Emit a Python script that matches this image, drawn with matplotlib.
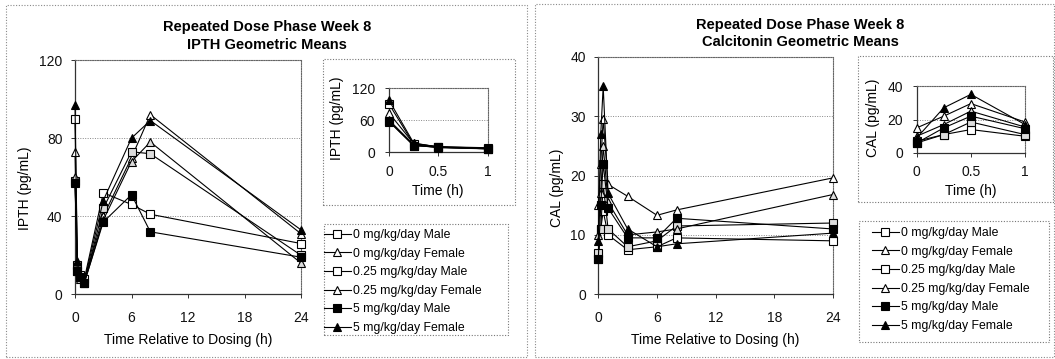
import matplotlib
matplotlib.use("Agg")
import matplotlib.pyplot as plt
from matplotlib.patches import Rectangle
from matplotlib.lines import Line2D

plt.rcParams['font.family'] = ['Liberation Sans', 'DejaVu Sans']

# ---------------- data ----------------
times = [0, 0.25, 0.5, 1, 3, 6, 8, 24]
series_labels = ["0 mg/kg/day Male", "0 mg/kg/day Female",
                 "0.25 mg/kg/day Male", "0.25 mg/kg/day Female",
                 "5 mg/kg/day Male", "5 mg/kg/day Female"]

ipth_0_male = [90, 15, 10, 8, 52, 46, 41, 26]
ipth_0_female = [73, 16, 10, 7, 40, 70, 92, 31]
ipth_025_male = [58, 12, 9, 6, 44, 73, 72, 20]
ipth_025_female = [60, 14, 8, 6, 38, 68, 78, 16]
ipth_5_male = [57, 12, 9, 6, 37, 51, 32, 19]
ipth_5_female = [97, 17, 9, 7, 48, 80, 89, 33]

cal_0_male = [6, 11, 14, 10, 7.5, 8, 9.5, 9]
cal_0_female = [15, 22, 29.5, 18.5, 16.5, 13.3, 14.2, 19.6]
cal_025_male = [7, 11, 18.5, 11, 8, 9, 11.5, 12]
cal_025_female = [10, 17, 25, 15.5, 10, 10.5, 11, 16.8]
cal_5_male = [6, 15, 22, 14.5, 9.5, 9.5, 12.8, 11]
cal_5_female = [9, 27, 35, 17, 11, 8, 8.5, 10.3]

ipth_series = [ipth_0_male, ipth_0_female, ipth_025_male,
               ipth_025_female, ipth_5_male, ipth_5_female]
cal_series = [cal_0_male, cal_0_female, cal_025_male,
              cal_025_female, cal_5_male, cal_5_female]

main_xticks = [0, 6, 12, 18, 24]
inset_xticks = [0, 0.5, 1]
inset_xticklabels = ["0", "0.5", "1"]
ipth_yticks = [0, 40, 80, 120]
ipth_inset_yticks = [0, 60, 120]
cal_yticks = [0, 10, 20, 30, 40]
cal_inset_yticks = [0, 20, 40]

# ---------------- styles ----------------
markers = ['s', '^', 's', '^', 's', '^']
faces = ['white', 'white', '#dcdcdc', '#dcdcdc', 'black', 'black']

W, H = 1055, 359
fig = plt.figure(figsize=(W / 100, H / 100), dpi=100)
fig.patch.set_facecolor('white')


def rect(x0, y0, x1, y1):
    return [x0 / W, 1 - y1 / H, (x1 - x0) / W, (y1 - y0) / H]


def box(x0, y0, x1, y1, color='#777777'):
    r = Rectangle((x0 / W, 1 - y1 / H), (x1 - x0) / W, (y1 - y0) / H,
                  transform=fig.transFigure, fill=False, lw=0.8,
                  ls=(0, (1, 1.5)), edgecolor=color)
    fig.add_artist(r)


def style_axes(ax, xlim, ylim, xticks, yticks, xpad, ypad, xticklabels=None):
    ax.set_xlim(*xlim)
    ax.set_ylim(*ylim)
    ax.set_xticks(xticks)
    if xticklabels is not None:
        ax.set_xticklabels(xticklabels)
    ax.set_yticks(yticks)
    ax.tick_params(axis='x', direction='out', length=3, width=0.6,
                   pad=xpad, labelsize=10, colors='#111111')
    ax.tick_params(axis='y', direction='out', length=3, width=0.6,
                   pad=ypad, labelsize=10, colors='#111111')
    for t in ax.get_yticks()[1:-1]:
        ax.axhline(t, color='#888888', lw=0.7, ls=(0, (1, 1.5)), zorder=0)
    for s in ['top', 'right']:
        ax.spines[s].set_linestyle((0, (1, 1.2)))
        ax.spines[s].set_color('#666666')
        ax.spines[s].set_linewidth(0.8)
    for s in ['left', 'bottom']:
        ax.spines[s].set_color('#333333')
        ax.spines[s].set_linewidth(0.9)


def plot_series(ax, xs, data, ms=6):
    for vals, m, fc, lab in zip(data, markers, faces, series_labels):
        ax.plot(xs, vals, color='black', lw=0.8, marker=m, ms=ms,
                markerfacecolor=fc, markeredgecolor='black',
                markeredgewidth=0.8, label=lab, clip_on=False, zorder=3)


def panel(cfg):
    (ax_main, ax_in, data, yt, yti, ylim, ylab, title, tx, ty1, ty2,
     ylab_x, inset_ylab_x_px, leg_x, leg_y, inbox, legbox, outer) = cfg
    box(*outer, color='#8a8a8a')
    box(*inbox)
    box(*legbox)

    ax = fig.add_axes(rect(*ax_main))
    plot_series(ax, times, data)
    style_axes(ax, (0, 24), ylim, main_xticks, yt, 9, 6)
    ax.set_xlabel("Time Relative to Dosing (h)", fontsize=10,
                  va='center')
    h_px = ax_main[3] - ax_main[1]
    w_px = ax_main[2] - ax_main[0]
    ax.xaxis.set_label_coords(0.5, (ax_main[3] - 340) / h_px)
    ax.set_ylabel(ylab, fontsize=10, va='center')
    ax.yaxis.set_label_coords((ylab_x - ax_main[0]) / w_px,
                              (ax_main[3] - 188) / h_px)

    axi = fig.add_axes(rect(*ax_in))
    sub = [v[:4] for v in data]
    plot_series(axi, times[:4], sub, ms=6)
    style_axes(axi, (0, 1), (0, ylim[1]), inset_xticks, yti, 6, 7,
               xticklabels=inset_xticklabels)
    axi.set_xlabel("Time (h)", fontsize=10, va='center')
    ih = ax_in[3] - ax_in[1]
    iw = ax_in[2] - ax_in[0]
    axi.xaxis.set_label_coords(0.5, (ax_in[3] - 191) / ih)
    axi.set_ylabel(ylab, fontsize=10, va='center')
    axi.yaxis.set_label_coords((inset_ylab_x_px - ax_in[0]) / iw,
                               (ax_in[3] - 118) / ih)

    fig.text(tx / W, 1 - ty1 / H, title[0], ha='center', va='center',
             fontsize=10.5, fontweight='bold')
    fig.text(tx / W, 1 - ty2 / H, title[1], ha='center', va='center',
             fontsize=10.5, fontweight='bold')

    handles = [Line2D([0], [0], color='black', lw=0.8, marker=m, ms=6,
                      markerfacecolor=('white' if fc == '#dcdcdc' else fc),
                      markeredgecolor='black', markeredgewidth=0.8)
               for m, fc in zip(markers, faces)]
    fig.legend(handles, series_labels, loc='upper left',
               bbox_to_anchor=(leg_x / W, 1 - leg_y / H), frameon=False,
               fontsize=8.8, handlelength=2.2, handletextpad=0.2,
               labelspacing=0.54, borderpad=0, borderaxespad=0)


panel(((75, 60, 301, 294.3), (389, 88, 487.5, 152), ipth_series,
       ipth_yticks, ipth_inset_yticks, (0, 120), "IPTH (pg/mL)",
       ("Repeated Dose Phase Week 8", "IPTH Geometric Means"),
       267, 26.5, 45, 25, 337, 324, 229,
       (323, 59, 515, 205), (324, 224, 508, 335), (6, 5, 527, 357)))

panel(((598.3, 56.7, 833, 294.3), (916.7, 86, 1025, 153), cal_series,
       cal_yticks, cal_inset_yticks, (0, 40), "CAL (pg/mL)",
       ("Repeated Dose Phase Week 8", "Calcitonin Geometric Means"),
       800, 25, 42, 557, 873, 872, 227,
       (858, 56, 1053, 202), (859, 221, 1049, 342), (535, 4, 1054, 357)))

fig.savefig("out.png", dpi=100)
